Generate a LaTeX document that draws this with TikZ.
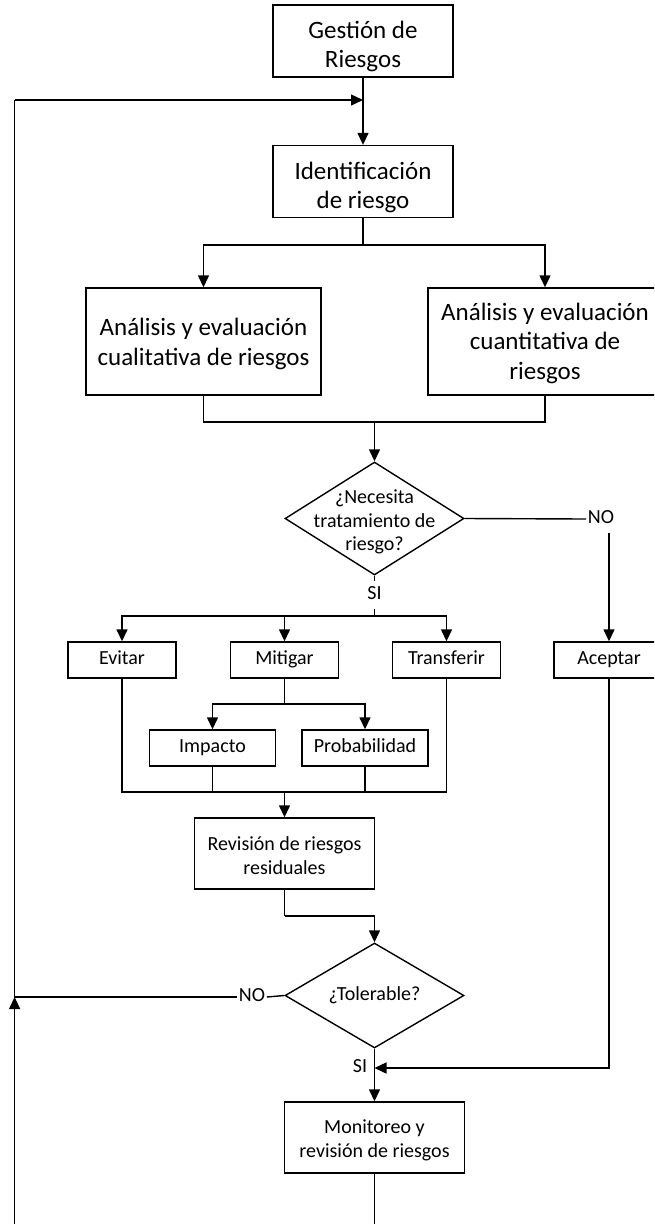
\documentclass[tikz,border=0pt]{standalone}
\usepackage{fontspec}
\setmainfont{Carlito}
\usetikzlibrary{shapes.geometric,arrows.meta}
\newcommand{\tup}[1]{\rule{0pt}{#1}}
\begin{document}
\begin{tikzpicture}[x=1pt,y=-1pt,
  line width=1.4pt,
  arr/.style={-{Triangle[length=12pt,width=11pt]}},
  bigbox/.style={draw,rectangle,inner sep=0pt,align=center,font=\fontsize{25}{29.5}\selectfont},
  smallbox/.style={draw,rectangle,inner sep=0pt,align=center,font=\fontsize{20}{24}\selectfont},
  dia/.style={draw,diamond,inner sep=0pt,minimum width=179pt},
  ttext/.style={align=center,inner sep=1pt,font=\fontsize{20}{23.5}\selectfont},
  lab/.style={fill=white,inner sep=1pt,font=\fontsize{20}{24}\selectfont}]
\useasboundingbox (0,0) rectangle (654,1224);
\clip (0,0) rectangle (654,1224);

% nodes
\node[bigbox,minimum width=180pt,minimum height=72pt] (ges) at (363,41) {\tup{32.6pt}Gestión de\\\strut Riesgos};
\node[bigbox,minimum width=180pt,minimum height=71pt] (ide) at (363,181.5) {\tup{33.6pt}Identificación\\\strut de riesgo};
\node[bigbox,minimum width=235pt,minimum height=107pt] (cual) at (203.5,341.5) {\tup{26.6pt}Análisis y evaluación\\\strut cualitativa de riesgos};
\node[bigbox,minimum width=234pt,minimum height=107pt] (cuan) at (545,341.5) {\tup{25.6pt}Análisis y evaluación\\\strut cuantitativa de\\\strut riesgos};
\node[dia,minimum height=113pt] (nec) at (374.5,518.5) {};
\node[ttext] (necT) at (nec.center) {\tup{24.4pt}¿Necesita\\\strut tratamiento de\\\strut riesgo?};
\node[lab] (si1) at (374.5,595) {\strut SI};
\node[lab] (no1) at (601,519) {\strut NO};
\node[smallbox,minimum width=108pt,minimum height=36pt] (evi) at (122,660) {\strut Evitar};
\node[smallbox,minimum width=108pt,minimum height=36pt] (mit) at (284.5,660) {\strut Mitigar};
\node[smallbox,minimum width=108pt,minimum height=36pt] (tra) at (446.5,660) {\strut Transferir};
\node[smallbox,minimum width=110pt,minimum height=36pt] (ace) at (609,660) {\strut Aceptar};
\node[smallbox,minimum width=126pt,minimum height=36pt] (imp) at (212.5,748) {\strut Impacto};
\node[smallbox,minimum width=126pt,minimum height=36pt] (pro) at (365,748) {\strut Probabilidad};
\node[smallbox,minimum width=180pt,minimum height=71pt] (rev) at (284.5,853.5) {\tup{24.8pt}Revisión de riesgos\\\strut residuales};
\node[dia,minimum height=105pt] (tol) at (374.5,995.5) {};
\node[ttext] (tolT) at (tol.center) {\strut ¿Tolerable?};
\node[lab] (no2) at (252,997) {\strut NO};
\node[lab,fill=none] (si2) at (360,1068) {\strut SI};
\node[smallbox,minimum width=180pt,minimum height=71pt] (mon) at (374.5,1137.5) {\tup{22.8pt}Monitoreo y\\\strut revisión de riesgos};

% coordinates
\coordinate (fb) at (363,100);
\coordinate (lt) at (14.6,100);
\coordinate (lc) at (14.6,997);
\coordinate (b1) at (363,245);
\coordinate (m1) at (374.5,422);
\coordinate (b2) at (374.5,616);
\coordinate (b3) at (284.5,704);
\coordinate (m3) at (284.5,792);
\coordinate (j4) at (284.5,916);
\coordinate (jA) at (374.5,1068);
\coordinate (bot) at (374.5,1250);

% connectors
\draw (ges.south) -- (fb);
\draw[arr] (fb) -- (ide.north);
\draw (ide.south) -- (b1);
\draw[arr] (b1) -| (cual.north);
\draw[arr] (b1) -| (cuan.north);
\draw (cual.south) |- (m1);
\draw (cuan.south) |- (m1);
\draw[arr] (m1) -- (nec.north);
\draw (nec.south) -- (si1.north);
\draw (si1.south) -- (b2);
\draw[arr] (b2) -| (evi.north);
\draw[arr] (b2) -| (mit.north);
\draw[arr] (b2) -| (tra.north);
\draw (nec.east) -- (no1.west);
\draw[arr] (no1.south -| ace.north) -- (ace.north);
\draw (mit.south) -- (b3);
\draw[arr] (b3) -| (imp.north);
\draw[arr] (b3) -| (pro.north);
\draw (evi.south) |- (m3);
\draw (tra.south) |- (m3);
\draw (imp.south) -- (imp.south |- m3);
\draw (pro.south) -- (pro.south |- m3);
\draw[arr] (m3) -- (rev.north);
\draw (rev.south) -- (j4);
\draw[arr] (j4) -| (tol.north);
\draw[arr] (tol.south) -- (mon.north);
\draw[arr] (ace.south) |- (jA);
\draw (tol.west) -- (no2.east);
\draw (no2.west) -- (lc) -- (lt);
\draw[arr] (lt) -- (fb);
\draw[arr] (mon.south) -- (bot) -| (lc);
\end{tikzpicture}
\end{document}
